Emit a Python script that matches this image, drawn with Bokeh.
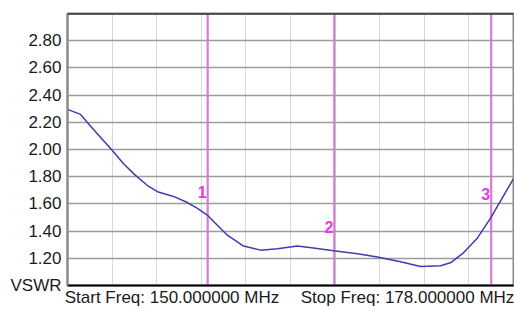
from bokeh.plotting import figure
from bokeh.models import FixedTicker, Range1d, Span
from bokeh.core.properties import value
from bokeh.embed import file_html
from bokeh.resources import INLINE

# ---- data ----
freq_mhz = [150.00, 150.82, 151.44, 152.07, 152.83, 153.52, 154.27, 155.02, 155.65,
            156.65, 157.53, 158.16, 158.79, 159.17, 160.04, 161.05, 162.12, 163.18,
            164.44, 165.44, 166.70, 168.21, 169.46, 170.91, 172.16, 173.42, 174.04,
            174.86, 175.74, 176.56, 177.38, 178.00]
vswr = [2.295, 2.258, 2.173, 2.090, 1.990, 1.895, 1.810, 1.735, 1.690,
        1.655, 1.610, 1.567, 1.516, 1.470, 1.370, 1.290, 1.260, 1.270,
        1.290, 1.276, 1.255, 1.233, 1.210, 1.175, 1.140, 1.145, 1.167,
        1.240, 1.350, 1.495, 1.660, 1.785]

marker_freq = [158.8, 166.75, 176.6]
marker_names = ["1", "2", "3"]
marker_label_y = [1.69, 1.43, 1.676]

y_ticks = [1.0, 1.2, 1.4, 1.6, 1.8, 2.0, 2.2, 2.4, 2.6, 2.8]
y_tick_labels = ["VSWR", "1.20", "1.40", "1.60", "1.80", "2.00", "2.20", "2.40", "2.60", "2.80"]
x_grid = [152.8, 155.6, 158.4, 161.2, 164.0, 166.8, 169.6, 172.4, 175.2]
x_label_pos = [156.56, 171.35]
x_labels = ["Start Freq: 150.000000 MHz", "Stop Freq: 178.000000 MHz"]

p = figure(width=514, height=309, output_backend="svg", toolbar_location=None,
           x_range=Range1d(150, 178), y_range=Range1d(1.0, 3.0),
           min_border_left=67, min_border_right=1, min_border_top=13, min_border_bottom=21)
p.background_fill_color = "white"
p.border_fill_color = "white"
p.outline_line_color = "#8a8a8a"
p.outline_line_width = 2

FONT = "Liberation Sans"

# y axis
p.yaxis.ticker = FixedTicker(ticks=y_ticks)
p.yaxis.major_label_overrides = {t: l for t, l in zip(y_ticks, y_tick_labels)}
p.yaxis.major_tick_line_color = None
p.yaxis.minor_tick_line_color = None
p.yaxis.major_tick_out = 0
p.yaxis.major_tick_in = 0
p.yaxis.major_label_standoff = 6
p.yaxis.major_label_text_font = FONT
p.yaxis.major_label_text_font_size = "17px"
p.yaxis.major_label_text_color = "#1a1a1a"
p.yaxis.axis_line_color = "#8a8a8a"
p.yaxis.axis_line_width = 2

# x axis
p.xaxis.ticker = FixedTicker(ticks=x_label_pos)
p.xaxis.major_label_overrides = {t: l for t, l in zip(x_label_pos, x_labels)}
p.xaxis.major_tick_line_color = None
p.xaxis.minor_tick_line_color = None
p.xaxis.major_tick_out = 0
p.xaxis.major_tick_in = 0
p.xaxis.major_label_standoff = 2
p.xaxis.major_label_text_font = FONT
p.xaxis.major_label_text_font_size = "17px"
p.xaxis.major_label_text_color = "#1a1a1a"
p.xaxis.axis_line_color = "black"
p.xaxis.axis_line_width = 2

# grids
p.xgrid.ticker = FixedTicker(ticks=x_grid)
p.xgrid.grid_line_color = "#b4b4b4"
p.xgrid.grid_line_dash = "1 1"
p.xgrid.grid_line_width = 1
p.ygrid.ticker = FixedTicker(ticks=y_ticks[1:])
p.ygrid.grid_line_color = "#9c9c9c"
p.ygrid.grid_line_width = 1.3

# top border
p.add_layout(Span(location=3.0, dimension="width", line_color="black", line_width=2))

# marker lines
p.segment(x0=marker_freq, x1=marker_freq, y0=[1.0] * 3, y1=[3.0] * 3,
          line_color="#d77bd9", line_width=2.2)

# curve
p.line(freq_mhz, vswr, line_color="#3d3db0", line_width=1.5)

# marker labels
p.text(x=marker_freq, y=marker_label_y, text=marker_names,
       text_align="right", text_baseline="middle", x_offset=-1,
       text_font=value(FONT), text_font_size="16px", text_font_style="bold",
       text_color="#e040e0")

open("out.html", "w").write(file_html(p, INLINE))
